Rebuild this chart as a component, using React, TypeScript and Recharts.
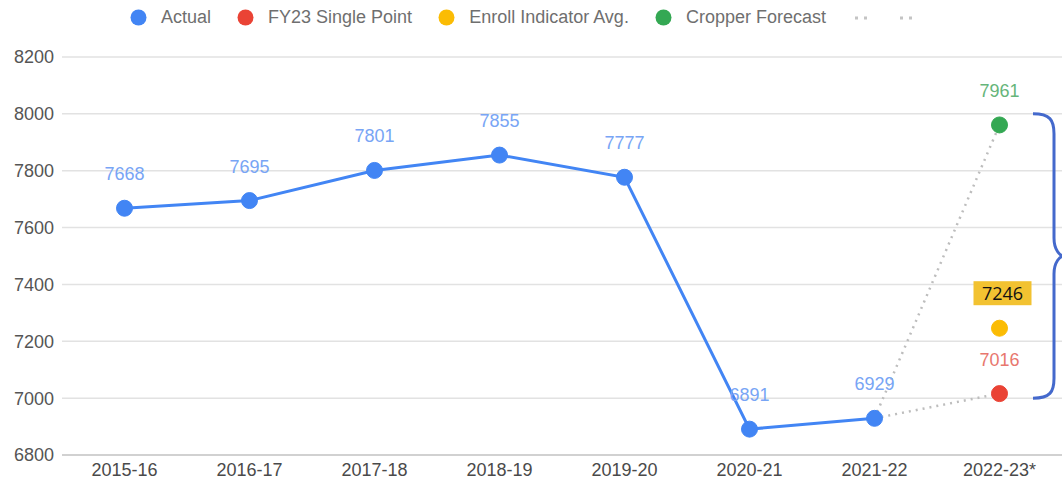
import React from "react";
import {
  LineChart,
  Line,
  XAxis,
  YAxis,
  CartesianGrid,
  ReferenceArea,
} from "recharts";

const categories = [
  "2015-16",
  "2016-17",
  "2017-18",
  "2018-19",
  "2019-20",
  "2020-21",
  "2021-22",
  "2022-23*",
];
const actual = [7668, 7695, 7801, 7855, 7777, 6891, 6929, null];
const fy23Single = [null, null, null, null, null, null, null, 7016];
const enrollAvg = [null, null, null, null, null, null, null, 7246];
const cropper = [null, null, null, null, null, null, null, 7961];
const trendToCropper = [null, null, null, null, null, null, 6929, 7961];
const trendToSingle = [null, null, null, null, null, null, 6929, 7016];
const yTicks = [6800, 7000, 7200, 7400, 7600, 7800, 8000, 8200];

const legendItems = [
  { name: "Actual", color: "#4285F4" },
  { name: "FY23 Single Point", color: "#EA4335" },
  { name: "Enroll Indicator Avg.", color: "#FBBC04" },
  { name: "Cropper Forecast", color: "#34A853" },
];

const data = categories.map((c, i) => ({
  cat: c,
  actual: actual[i],
  fy23: fy23Single[i],
  enroll: enrollAvg[i],
  cropper: cropper[i],
  trendA: trendToCropper[i],
  trendB: trendToSingle[i],
}));

const FONT = "'Liberation Sans', Arial, sans-serif";
const PAD = 62.5;

const makeLabel = (color: string) => (props: any) => {
  const { x, y, value, index } = props;
  if (value == null || x == null || y == null) return null;
  return (
    <text
      key={`l-${color}-${index}`}
      x={x}
      y={y - 28}
      fill={color}
      fontSize={18}
      fontFamily={FONT}
      textAnchor="middle"
    >
      {value}
    </text>
  );
};

const boxLabel = (props: any) => {
  const { x, y, value, index } = props;
  if (value == null || x == null || y == null) return null;
  return (
    <g key={`bl-${index}`}>
      <rect x={x - 26} y={y - 47} width={58} height={24} fill="#F2C231" />
      <text
        x={x + 3}
        y={y - 28.5}
        fill="#111"
        fontSize={18}
        fontFamily="'Open Sans', sans-serif"
        textAnchor="middle"
      >
        {value}
      </text>
    </g>
  );
};

const Brace = (props: any) => {
  const { x, y, width, height } = props;
  const right = x + width + PAD;
  const top = y;
  const bottom = y + height;
  const mid = (top + bottom) / 2;
  const xl = right - 29;
  const xv = right - 8;
  const xt = right + 2;
  const d = `M ${xl} ${top} C ${xv - 4} ${top}, ${xv} ${top + 6}, ${xv} ${top + 20}
    L ${xv} ${mid - 18} C ${xv} ${mid - 6}, ${xt - 4} ${mid}, ${xt} ${mid}
    C ${xt - 4} ${mid}, ${xv} ${mid + 6}, ${xv} ${mid + 18}
    L ${xv} ${bottom - 20} C ${xv} ${bottom - 6}, ${xv - 4} ${bottom}, ${xl} ${bottom}`;
  return <path d={d} fill="none" stroke="#4469CC" strokeWidth={3} />;
};

const Legend = () => (
  <div
    style={{
      position: "absolute",
      top: 8,
      left: 130,
      display: "flex",
      alignItems: "center",
      fontFamily: FONT,
      fontSize: 18,
      color: "#6f6f6f",
      whiteSpace: "nowrap",
      lineHeight: "18px",
    }}
  >
    {legendItems.map((it) => (
      <div
        key={it.name}
        style={{ display: "flex", alignItems: "center", marginRight: 26 }}
      >
        <svg width={17} height={17} style={{ marginRight: 14 }}>
          <circle cx={8.5} cy={8.5} r={8} fill={it.color} />
        </svg>
        <span>{it.name}</span>
      </div>
    ))}
    <svg width={20} height={17} style={{ marginRight: 25 }}>
      <line
        x1={3}
        y1={9}
        x2={20}
        y2={9}
        stroke="#c4c4c4"
        strokeWidth={3}
        strokeDasharray="3 6"
      />
    </svg>
    <svg width={20} height={17}>
      <line
        x1={3}
        y1={9}
        x2={20}
        y2={9}
        stroke="#c4c4c4"
        strokeWidth={3}
        strokeDasharray="3 6"
      />
    </svg>
  </div>
);

export default function App() {
  return (
    <div
      style={{
        position: "absolute",
        left: 0,
        top: 0,
        width: 1062,
        height: 489,
        background: "#fff",
        overflow: "hidden",
      }}
    >
      <Legend />
      <LineChart
        width={1062}
        height={489}
        data={data}
        margin={{ top: 57, right: 0, left: 0, bottom: 0 }}
      >
        <CartesianGrid vertical={false} stroke="#e2e2e2" strokeWidth={1.5} />
        <XAxis
          dataKey="cat"
          height={34}
          tickLine={false}
          padding={{ left: PAD, right: PAD }}
          axisLine={{ stroke: "#c8c8c8", strokeWidth: 1.5 }}
          tick={{ fill: "#4a4a4a", fontSize: 18, fontFamily: FONT }}
          interval={0}
        />
        <YAxis
          width={62}
          domain={[6800, 8200]}
          ticks={yTicks}
          axisLine={false}
          tickLine={false}
          tick={{ fill: "#555", fontSize: 18, fontFamily: FONT }}
          interval={0}
        />
        <ReferenceArea
          y1={7000}
          y2={8000}
          shape={Brace}
          fill="none"
          ifOverflow="visible"
        />
        <Line
          dataKey="trendA"
          stroke="#bdbdbd"
          strokeWidth={2.5}
          strokeDasharray="2 5"
          dot={false}
          activeDot={false}
          isAnimationActive={false}
        />
        <Line
          dataKey="trendB"
          stroke="#bdbdbd"
          strokeWidth={2.5}
          strokeDasharray="2 5"
          dot={false}
          activeDot={false}
          isAnimationActive={false}
        />
        <Line
          dataKey="actual"
          stroke="#4285F4"
          strokeWidth={3}
          dot={{ r: 8, fill: "#4285F4", stroke: "#4285F4", strokeWidth: 1 }}
          activeDot={false}
          label={makeLabel("#78A5F5")}
          isAnimationActive={false}
        />
        <Line
          dataKey="fy23"
          stroke="none"
          dot={{ r: 8, fill: "#EA4335", stroke: "#EA4335", strokeWidth: 1 }}
          activeDot={false}
          label={makeLabel("#E8776E")}
          isAnimationActive={false}
        />
        <Line
          dataKey="enroll"
          stroke="none"
          dot={{ r: 8, fill: "#FBBC04", stroke: "#FBBC04", strokeWidth: 1 }}
          activeDot={false}
          label={boxLabel}
          isAnimationActive={false}
        />
        <Line
          dataKey="cropper"
          stroke="none"
          dot={{ r: 8, fill: "#34A853", stroke: "#34A853", strokeWidth: 1 }}
          activeDot={false}
          label={makeLabel("#66B57A")}
          isAnimationActive={false}
        />
      </LineChart>
    </div>
  );
}
